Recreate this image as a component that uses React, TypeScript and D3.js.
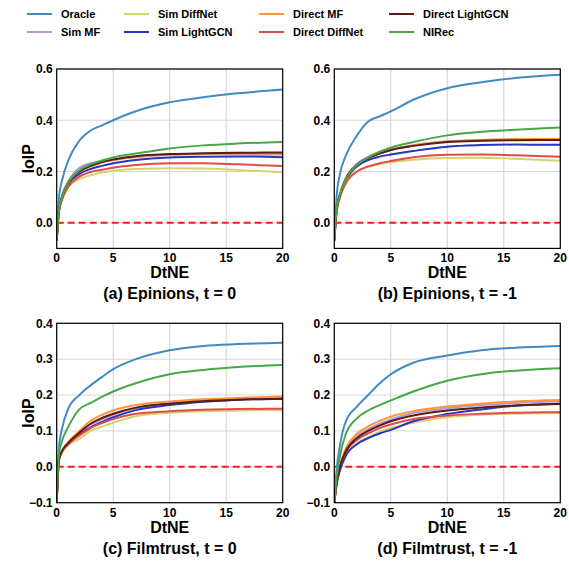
import React from "react";
import * as d3 from "d3";

const seriesNames = ["Oracle", "Sim MF", "Sim DiffNet", "Sim LightGCN", "Direct MF", "Direct DiffNet", "Direct LightGCN", "NIRec"];
const seriesColors = ["#418bc0", "#b498d6", "#d4d46c", "#2635c4", "#ff9438", "#e04b4c", "#5c1c10", "#46a846"];

const dtne = [0, 0.2, 0.5, 1, 2, 3, 4, 5, 7, 10, 13, 16, 20];
const xTicks = [0, 5, 10, 15, 20];
const yTicksEpinions = [0.0, 0.2, 0.4, 0.6];
const yTicksFilmtrust = [-0.1, 0.0, 0.1, 0.2, 0.3, 0.4];

// (a) Epinions, t = 0
const epinionsT0 = [
  [-0.07, 0.10, 0.17, 0.24, 0.32, 0.36, 0.38, 0.40, 0.435, 0.47, 0.49, 0.505, 0.52],
  [-0.07, 0.05, 0.11, 0.16, 0.215, 0.232, 0.238, 0.246, 0.256, 0.265, 0.268, 0.268, 0.266],
  [-0.07, 0.04, 0.09, 0.135, 0.17, 0.185, 0.196, 0.203, 0.21, 0.213, 0.212, 0.206, 0.197],
  [-0.07, 0.045, 0.10, 0.15, 0.19, 0.21, 0.222, 0.232, 0.245, 0.255, 0.258, 0.259, 0.256],
  [-0.07, 0.05, 0.105, 0.155, 0.20, 0.22, 0.235, 0.245, 0.258, 0.266, 0.269, 0.27, 0.27],
  [-0.07, 0.045, 0.095, 0.14, 0.18, 0.198, 0.207, 0.215, 0.225, 0.232, 0.232, 0.228, 0.222],
  [-0.07, 0.05, 0.105, 0.155, 0.20, 0.222, 0.237, 0.247, 0.26, 0.268, 0.271, 0.273, 0.274],
  [-0.07, 0.05, 0.105, 0.155, 0.205, 0.228, 0.243, 0.255, 0.27, 0.29, 0.302, 0.309, 0.315],
];

// (b) Epinions, t = -1
const epinionsT1 = [
  [-0.07, 0.10, 0.19, 0.26, 0.34, 0.395, 0.415, 0.435, 0.48, 0.525, 0.548, 0.565, 0.578],
  [-0.07, 0.05, 0.11, 0.17, 0.23, 0.258, 0.272, 0.285, 0.303, 0.318, 0.323, 0.325, 0.325],
  [-0.07, 0.04, 0.10, 0.15, 0.20, 0.218, 0.228, 0.236, 0.246, 0.253, 0.254, 0.25, 0.242],
  [-0.07, 0.05, 0.11, 0.165, 0.22, 0.245, 0.258, 0.266, 0.28, 0.297, 0.303, 0.305, 0.304],
  [-0.07, 0.05, 0.11, 0.17, 0.225, 0.252, 0.27, 0.284, 0.302, 0.317, 0.323, 0.326, 0.327],
  [-0.07, 0.04, 0.10, 0.155, 0.20, 0.22, 0.232, 0.241, 0.256, 0.265, 0.266, 0.263, 0.258],
  [-0.07, 0.05, 0.11, 0.17, 0.225, 0.252, 0.27, 0.284, 0.30, 0.315, 0.32, 0.322, 0.323],
  [-0.07, 0.05, 0.11, 0.168, 0.225, 0.255, 0.277, 0.293, 0.315, 0.341, 0.355, 0.363, 0.372],
];

// (c) Filmtrust, t = 0
const filmtrustT0 = [
  [-0.1, 0.05, 0.11, 0.16, 0.20, 0.227, 0.25, 0.272, 0.30, 0.325, 0.337, 0.342, 0.346],
  [-0.1, 0.02, 0.045, 0.065, 0.095, 0.118, 0.133, 0.145, 0.163, 0.177, 0.185, 0.19, 0.192],
  [-0.1, 0.015, 0.04, 0.06, 0.078, 0.10, 0.112, 0.123, 0.141, 0.151, 0.155, 0.157, 0.158],
  [-0.1, 0.02, 0.045, 0.063, 0.09, 0.11, 0.125, 0.138, 0.158, 0.172, 0.181, 0.187, 0.19],
  [-0.1, 0.02, 0.045, 0.068, 0.10, 0.128, 0.145, 0.157, 0.172, 0.182, 0.188, 0.192, 0.196],
  [-0.1, 0.02, 0.045, 0.063, 0.087, 0.108, 0.122, 0.133, 0.148, 0.155, 0.159, 0.161, 0.162],
  [-0.1, 0.02, 0.045, 0.066, 0.095, 0.12, 0.136, 0.148, 0.165, 0.176, 0.183, 0.187, 0.19],
  [-0.1, 0.035, 0.075, 0.11, 0.16, 0.178, 0.195, 0.21, 0.233, 0.258, 0.27, 0.278, 0.284],
];

// (d) Filmtrust, t = -1
const filmtrustT1 = [
  [-0.1, -0.01, 0.06, 0.125, 0.168, 0.2, 0.232, 0.258, 0.29, 0.31, 0.325, 0.332, 0.337],
  [-0.1, -0.04, 0.0, 0.045, 0.085, 0.105, 0.12, 0.132, 0.15, 0.163, 0.172, 0.178, 0.182],
  [-0.1, -0.05, -0.01, 0.03, 0.065, 0.083, 0.097, 0.108, 0.123, 0.138, 0.145, 0.148, 0.15],
  [-0.1, -0.05, -0.01, 0.03, 0.063, 0.08, 0.093, 0.103, 0.127, 0.147, 0.16, 0.17, 0.176],
  [-0.1, -0.04, 0.005, 0.05, 0.092, 0.113, 0.128, 0.14, 0.155, 0.168, 0.176, 0.182, 0.186],
  [-0.1, -0.045, 0.0, 0.04, 0.075, 0.093, 0.108, 0.118, 0.133, 0.143, 0.148, 0.151, 0.152],
  [-0.1, -0.045, 0.0, 0.042, 0.08, 0.10, 0.115, 0.127, 0.143, 0.157, 0.165, 0.171, 0.175],
  [-0.1, -0.03, 0.03, 0.09, 0.135, 0.157, 0.172, 0.185, 0.21, 0.24, 0.258, 0.268, 0.275],
];

const FONT = "'Liberation Sans', Arial, sans-serif";

type PanelProps = {
  id: string;
  left: number;
  top: number;
  data: number[][];
  yDomain: [number, number];
  yTicks: number[];
  caption: string;
  showYLabel: boolean;
};

const PW = 226;
const PH = 179.4;

function Panel({ id, left, top, data, yDomain, yTicks, caption, showYLabel }: PanelProps) {
  const x = d3.scaleLinear().domain([0, 20]).range([left, left + PW]);
  const y = d3.scaleLinear().domain(yDomain).range([top + PH, top]);
  const line = d3
    .line<number>()
    .x((_, i) => x(dtne[i]))
    .y((v) => y(v))
    .curve(d3.curveMonotoneX);
  const fmt = d3.format(".1f");
  const bottom = top + PH;
  return (
    <g>
      <defs>
        <clipPath id={id}>
          <rect x={left} y={top} width={PW} height={PH} />
        </clipPath>
      </defs>
      {xTicks.map((t) => (
        <line key={"gx" + t} x1={x(t)} x2={x(t)} y1={top} y2={bottom} stroke="#d0d0d0" strokeWidth={1} />
      ))}
      {yTicks.map((t) => (
        <line key={"gy" + t} x1={left} x2={left + PW} y1={y(t)} y2={y(t)} stroke="#d8d8d8" strokeWidth={1} />
      ))}
      <g clipPath={`url(#${id})`}>
        <line x1={left} x2={left + PW} y1={y(0)} y2={y(0)} stroke="#ff1a1a" strokeWidth={2} strokeDasharray="7,4" />
        {data.map((s, i) => (
          <path key={i} d={line(s) || ""} fill="none" stroke={seriesColors[i]} strokeWidth={2} strokeLinejoin="round" />
        ))}
      </g>
      <rect x={left} y={top} width={PW} height={PH} fill="none" stroke="#000" strokeWidth={1.2} />
      {xTicks.map((t) => (
        <text key={"tx" + t} x={x(t)} y={bottom + 14} textAnchor="middle" fontSize={12} fontWeight="bold" fontFamily={FONT}>
          {t}
        </text>
      ))}
      {yTicks.map((t) => (
        <text key={"ty" + t} x={left - 4} y={y(t) + 4.3} textAnchor="end" fontSize={12} fontWeight="bold" fontFamily={FONT}>
          {fmt(t)}
        </text>
      ))}
      <text x={left + PW / 2} y={bottom + 30} textAnchor="middle" fontSize={16} fontWeight="bold" fontFamily={FONT}>
        DtNE
      </text>
      <text x={left + PW / 2} y={bottom + 51} textAnchor="middle" fontSize={16} fontWeight="bold" fontFamily={FONT}>
        {caption}
      </text>
      {showYLabel && (
        <text
          transform={`translate(${left - 23},${top + PH / 2}) rotate(-90)`}
          textAnchor="middle"
          fontSize={16}
          fontWeight="bold"
          fontFamily={FONT}
        >
          IoIP
        </text>
      )}
    </g>
  );
}

const legendCols = [27, 124, 259, 389];
const legendRows = [14, 32];

export default function App() {
  return (
    <svg width={569} height={563} style={{ position: "absolute", left: 0, top: 0, background: "#fff" }}>
      <rect width={569} height={563} fill="#fff" />
      {seriesNames.map((name, i) => {
        const col = Math.floor(i / 2);
        const row = i % 2;
        const lx = legendCols[col];
        const ly = legendRows[row];
        return (
          <g key={name}>
            <line x1={lx} x2={lx + 25} y1={ly} y2={ly} stroke={seriesColors[i]} strokeWidth={2} />
            <text x={lx + 34} y={ly + 4} fontSize={11} fontWeight="bold" fontFamily={FONT}>
              {name}
            </text>
          </g>
        );
      })}
      <Panel id="clipA" left={56.7} top={69} data={epinionsT0} yDomain={[-0.1, 0.6]} yTicks={yTicksEpinions} caption="(a) Epinions, t = 0" showYLabel />
      <Panel id="clipB" left={334.3} top={69} data={epinionsT1} yDomain={[-0.1, 0.6]} yTicks={yTicksEpinions} caption="(b) Epinions, t = -1" showYLabel={false} />
      <Panel id="clipC" left={56.7} top={323.3} data={filmtrustT0} yDomain={[-0.1, 0.4]} yTicks={yTicksFilmtrust} caption="(c) Filmtrust, t = 0" showYLabel />
      <Panel id="clipD" left={334.3} top={323.3} data={filmtrustT1} yDomain={[-0.1, 0.4]} yTicks={yTicksFilmtrust} caption="(d) Filmtrust, t = -1" showYLabel={false} />
    </svg>
  );
}
